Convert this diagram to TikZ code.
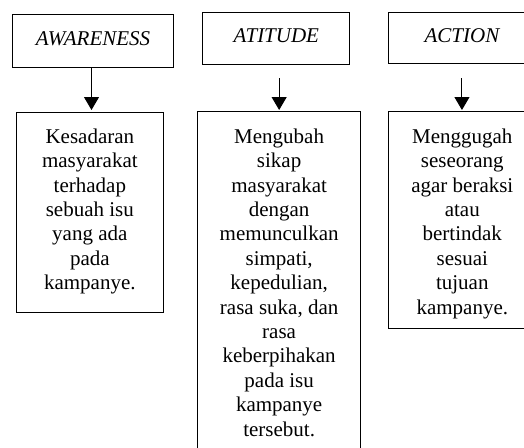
\documentclass[tikz,border=0pt]{standalone}
\usepackage{fontspec}
\setmainfont{Liberation Serif}
\usetikzlibrary{arrows.meta,calc}
\begin{document}
\begin{tikzpicture}[x=1pt,y=-1pt,
  box/.style={draw=black,line width=1pt,rectangle,inner sep=0pt,anchor=north west},
  head/.style={box,font=\fontsize{21}{24.4}\selectfont\itshape,text height=14pt,text depth=6pt},
  body/.style={anchor=north,inner sep=0pt,align=center,font=\fontsize{21}{24.4}\selectfont},
  arr/.style={line width=1pt,-{Triangle[width=15pt,length=13pt]}}]
\useasboundingbox (0,0) rectangle (524,447);
\clip (0,0) rectangle (524,447);
% heading boxes
\node[head,minimum width=160.4pt,minimum height=53pt] (h1) at (12.3,14) {AWARENESS};
\node[head,minimum width=147pt,minimum height=52pt] (h2) at (202.3,12) {ATITUDE};
\node[head,minimum width=147.5pt,minimum height=51pt] (h3) at (387.7,12) {ACTION};
% body boxes
\node[box,minimum width=146.7pt,minimum height=200.5pt] (b1) at (16,111.5) {};
\node[box,minimum width=162.7pt,minimum height=345pt] (b2) at (197.3,111) {};
\node[box,minimum width=147pt,minimum height=217pt] (b3) at (388.3,111) {};
% body texts
\node[body] (t1) at ($(b1.north)+(0,16.5)$) {\rule{0pt}{15pt}Kesadaran\\masyarakat\\terhadap\\sebuah isu\\yang ada\\pada\\kampanye.};
\node[body] (t2) at ($(b2.north)+(0,17)$) {\rule{0pt}{15pt}Mengubah\\sikap\\masyarakat\\dengan\\memunculkan\\simpati,\\kepedulian,\\rasa suka, dan\\rasa\\keberpihakan\\pada isu\\kampanye\\tersebut.};
\node[body] (t3) at ($(b3.north)+(0,17)$) {\rule{0pt}{15pt}Menggugah\\seseorang\\agar beraksi\\atau\\bertindak\\sesuai\\tujuan\\kampanye.};
% arrows
\draw[arr,shorten >=1.5pt] ($(h1.south)+(-1.5,0)$) -- ($(h1.south|-b1.north)+(-1.5,0)$);
\draw[arr,shorten <=13pt,shorten >=1pt] (b2.north|-h2.south) -- (b2.north);
\draw[arr,shorten <=14pt,shorten >=1pt] (h3.south) -- (h3.south|-b3.north);
\end{tikzpicture}
\end{document}
